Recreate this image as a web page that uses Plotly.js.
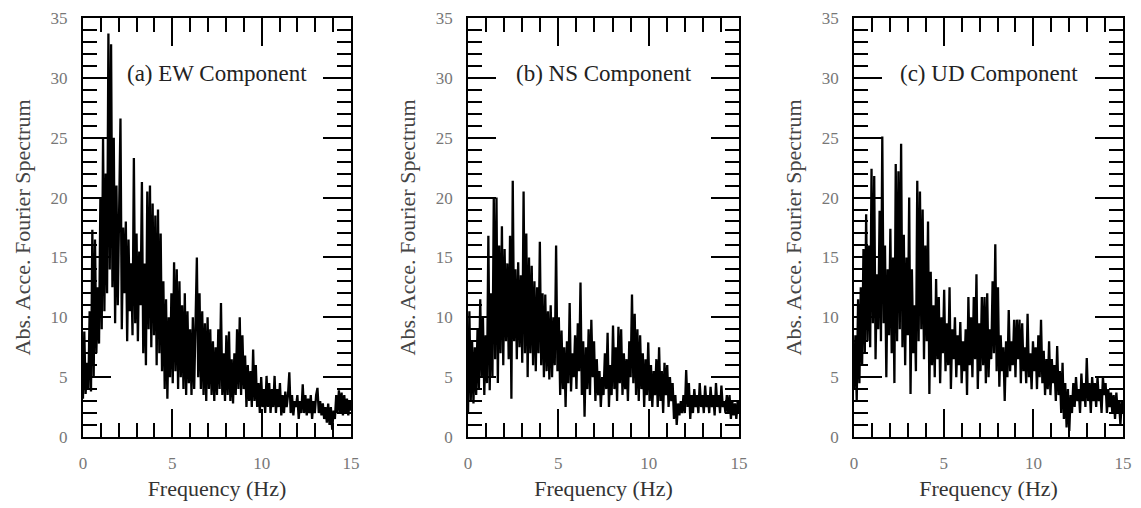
<!DOCTYPE html>
<html>
<head>
<meta charset="utf-8">
<script src="https://cdn.plot.ly/plotly-3.0.1.min.js"></script>
<style>html,body{margin:0;padding:0;background:#fff;}#chart{width:1141px;height:508px;}</style>
</head>
<body>
<div id="chart"></div>
<script>
// Frequency axis: FFT bins from 0 Hz, spacing 0.075 Hz (201 bins to 15 Hz)
const freqStart = 0;
const freqStep = 0.075;

const panelTitles = ["(a) EW Component", "(b) NS Component", "(c) UD Component"];
const xTickVals = [0, 5, 10, 15];
const yTickVals = [0, 5, 10, 15, 20, 25, 30, 35];

const ewSpectrum = [
3.2,8.8,3.6,6.2,4.0,10.5,3.8,17.3,5.0,16.5,7.0,12.5,7.8,20.0,9.0,25.0,10.5,22.0,12.0,33.7,
14.0,32.8,12.5,25.0,9.5,21.0,11.0,18.5,26.6,9.0,17.5,12.0,18.0,8.0,16.5,10.5,14.5,8.5,23.3,9.5,
17.0,8.0,15.5,11.0,21.3,7.0,14.5,6.0,20.5,9.0,21.0,7.5,19.5,8.5,18.5,6.0,19.0,7.0,17.0,5.5,
13.0,4.0,11.5,3.2,10.0,5.0,12.0,4.5,14.6,5.5,14.0,4.0,13.0,5.0,11.0,4.0,12.0,3.5,10.5,4.5,
9.0,3.5,10.0,4.0,11.0,15.0,5.0,12.0,4.0,10.5,3.5,9.5,3.0,10.0,4.0,9.0,3.5,8.0,3.0,7.5,
3.5,9.0,4.0,11.2,3.5,7.0,3.0,8.5,3.5,8.8,3.0,6.5,2.8,7.0,3.5,9.0,4.0,10.0,3.5,8.5,
4.0,6.8,2.5,6.0,3.0,5.5,2.5,7.3,3.0,6.0,2.5,4.5,2.0,5.0,2.5,4.0,2.0,5.1,2.5,4.5,
2.0,4.0,2.5,5.1,2.0,4.0,2.5,4.5,1.8,3.5,2.0,3.8,2.5,3.5,5.4,2.0,3.5,1.8,3.0,2.5,
3.5,1.5,3.0,2.0,4.4,2.0,3.5,1.8,3.2,2.0,3.5,1.5,3.0,2.0,3.5,4.1,2.0,3.0,1.8,2.8,
1.5,2.5,1.2,2.8,1.0,2.5,0.6,2.2,1.5,3.5,2.0,3.9,2.0,3.7,1.8,3.5,2.0,3.2,1.8,3.0,
2.2
];

const nsSpectrum = [
2.0,10.5,3.0,8.0,2.8,7.5,3.5,9.0,4.0,11.5,5.0,10.0,3.5,8.5,4.5,16.8,3.9,12.0,5.0,20.0,
6.5,20.0,4.5,16.0,7.0,17.6,6.0,15.7,8.0,14.5,6.5,16.8,3.2,21.4,8.0,14.0,6.5,14.6,7.5,13.5,
6.2,20.5,7.0,17.0,5.0,15.0,7.0,14.3,6.0,13.0,5.5,12.5,7.0,16.3,6.0,12.0,5.0,11.9,5.5,10.5,
4.8,11.0,5.0,10.0,6.0,16.0,5.5,10.0,3.5,8.9,4.0,7.5,2.5,8.0,4.5,11.2,3.8,7.0,5.0,8.5,
4.0,9.5,5.5,12.9,3.5,8.0,1.7,7.5,4.0,9.0,3.5,9.8,5.0,8.0,3.0,6.5,3.5,5.5,2.5,5.0,
3.5,7.0,4.0,8.7,2.5,6.0,3.5,9.3,4.0,7.5,3.0,9.2,4.5,9.0,3.5,7.0,4.0,6.5,3.0,8.0,
5.0,11.9,4.5,10.3,3.5,9.0,3.0,8.5,4.0,7.0,2.5,6.5,3.5,7.9,3.0,6.0,2.5,5.5,3.5,6.5,
2.5,7.5,3.0,5.5,2.0,6.2,3.5,6.0,2.5,5.0,3.0,4.5,1.5,3.5,1.0,2.8,1.8,3.0,2.0,3.5,
2.0,5.6,2.5,4.5,1.5,3.5,2.0,4.0,2.5,3.5,2.0,4.5,2.5,3.5,2.0,4.3,2.5,3.5,2.0,4.2,
2.5,3.5,1.8,4.5,2.5,3.5,2.0,4.3,2.5,3.0,2.0,3.5,2.0,3.5,1.5,3.0,1.8,2.8,1.5,3.0,
2.0
];

const udSpectrum = [
4.0,8.5,3.0,11.5,4.5,12.5,6.0,15.7,7.0,18.6,8.0,16.0,7.5,22.4,9.5,21.8,6.5,13.6,9.0,18.9,
8.0,25.1,9.5,16.0,5.0,14.0,8.5,17.4,7.0,15.0,4.5,22.8,8.0,22.2,9.0,24.5,7.5,16.9,6.0,15.0,
8.5,20.0,3.6,14.0,7.0,11.0,5.5,21.4,8.0,20.5,9.0,19.0,6.5,16.0,8.0,18.0,3.6,13.8,6.0,11.0,
5.0,13.2,6.5,11.7,4.5,10.0,7.0,12.3,5.5,9.5,6.0,12.5,4.0,9.0,6.5,10.0,5.0,8.5,6.0,9.6,
4.5,8.0,5.5,9.0,3.5,11.7,6.0,10.0,5.0,11.7,6.5,13.6,4.0,9.5,5.5,11.7,6.0,11.7,4.5,12.0,
5.0,9.0,6.5,13.0,7.0,16.1,5.5,12.5,4.2,8.5,5.5,7.5,3.0,8.0,5.0,10.6,5.5,8.0,6.0,9.8,
5.0,9.8,6.5,9.8,4.5,9.5,5.5,7.5,4.5,10.3,5.0,7.0,4.0,8.0,5.5,7.5,4.0,8.5,5.0,9.8,
4.5,7.2,3.5,6.5,4.0,8.0,3.5,6.5,4.5,6.0,3.0,7.6,3.5,5.5,2.0,6.2,1.5,4.5,0.8,4.0,
0.5,3.5,2.0,4.5,2.5,5.0,3.0,4.0,2.0,5.3,3.0,4.5,2.5,6.6,3.0,4.5,2.0,5.0,3.0,4.5,
2.5,5.0,3.0,4.0,2.0,5.0,3.5,4.5,2.0,4.0,2.5,3.7,2.0,3.5,1.5,3.7,2.0,3.0,1.0,3.0,
2.0
];

const series = [ewSpectrum, nsSpectrum, udSpectrum];

const xDomains = [[0.0727, 0.3076], [0.4102, 0.6477], [0.7485, 0.9843]];
const yDomain = [0.1398, 0.9646];

const serif = "Liberation Serif, Times New Roman, serif";
const traces = [];
const layout = {
  width: 1141, height: 508,
  margin: {l: 0, r: 0, t: 0, b: 0},
  paper_bgcolor: "#fff", plot_bgcolor: "#fff",
  showlegend: false,
  annotations: []
};

series.forEach((vals, k) => {
  const sfx = k === 0 ? "" : String(k + 1);
  traces.push({
    type: "scatter", mode: "lines",
    x0: freqStart, dx: freqStep, y: vals,
    xaxis: "x" + sfx, yaxis: "y" + sfx,
    line: {color: "#000", width: 2.3},
    hoverinfo: "skip"
  });
  const common = {
    showline: true, linecolor: "#000", linewidth: 2, mirror: "allticks",
    ticks: "inside", ticklen: 28, tickwidth: 2, tickcolor: "#000",
    showgrid: false, zeroline: false, fixedrange: true,
    tickfont: {family: serif, size: 17, color: "#777"},
  };
  layout["xaxis" + sfx] = Object.assign({}, common, {
    domain: xDomains[k], range: [0, 15], anchor: "y" + sfx,
    tickvals: xTickVals, ticktext: xTickVals.map(String),
    ticklabelstandoff: 10,
    minor: {dtick: 1, tick0: 0, ticks: "inside", ticklen: 14, tickwidth: 2, tickcolor: "#000", showgrid: false},
    title: {text: "Frequency (Hz)", font: {family: serif, size: 22, color: "#333"}, standoff: 8}
  });
  layout["yaxis" + sfx] = Object.assign({}, common, {
    domain: yDomain, range: [0, 35], anchor: "x" + sfx,
    tickvals: yTickVals, ticktext: yTickVals.map(String),
    ticklabelstandoff: 10,
    minor: {dtick: 1, tick0: 0, ticks: "inside", ticklen: 14, tickwidth: 2, tickcolor: "#000", showgrid: false},
    title: {text: "Abs. Acce. Fourier Spectrum", font: {family: serif, size: 22, color: "#444"}, standoff: 14}
  });
  layout.annotations.push({
    xref: "x" + sfx, yref: "y" + sfx, x: 7.5, y: 30.4,
    text: panelTitles[k], showarrow: false,
    font: {family: serif, size: 23, color: "#222"},
    xanchor: "center", yanchor: "middle"
  });
});

Plotly.newPlot("chart", traces, layout, {staticPlot: true, displayModeBar: false});
</script>
</body>
</html>
